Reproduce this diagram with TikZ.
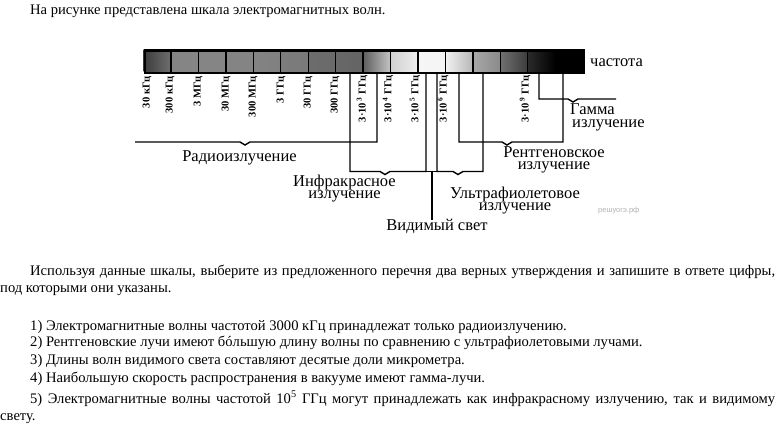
\documentclass[tikz,border=0pt]{standalone}
\usepackage{fontspec}
\setmainfont{Liberation Serif}
\newfontfamily\wmfont{Liberation Sans}
\begin{document}
\begin{tikzpicture}[x=1pt,y=-1pt,
  br/.style={line width=1.4pt},
  sep/.style={line width=1.3pt},
  tick/.style={rotate=90,anchor=east,inner sep=0pt,font=\fontsize{10.5}{11}\selectfont\bfseries},
  lbl/.style={inner sep=0pt,align=center,font=\fontsize{16.5}{12.5}\selectfont},
  body/.style={inner sep=0pt,font=\fontsize{14.6}{17}\selectfont}]
\useasboundingbox (0,0) rectangle (780,425);
\def\xo{143.5}\def\cw{27.45}
% bar cells
\foreach \i/\l/\r in {0/3c3c3c/6e6e6e,1/848484/868686,2/858585/858585,3/848484/848484,4/838383/808080,
  5/7c7c7c/7a7a7a,6/6c6c6c/6a6a6a,7/686868/646464,8/5e5e5e/c4c4c4,9/d0d0d0/eeeeee,10/f6f6f6/f4f4f4,
  11/f2f2f2/b6b6b6,12/a8a8a8/8a8a8a,13/707070/3c3c3c,14/2a2a2a/000000,15/000000/000000}{
  \definecolor{cl}{HTML}{\l}\definecolor{cr}{HTML}{\r}
  \fill[left color=cl,right color=cr] (\xo+\i*\cw,49.3) rectangle (\xo+\i*\cw+\cw,71.7);
}
\foreach \i in {1,...,14}{\draw[sep] (\xo+\i*\cw,49.3) -- (\xo+\i*\cw,71.7);}
\node[draw,line width=2.5pt,inner sep=0pt,minimum width=439.2pt,minimum height=22.4pt,anchor=north west] (bar) at (\xo,49.3) {};
\node[anchor=base west,inner sep=0pt,font=\fontsize{16.5}{18}\selectfont] (freq) at (590,67) {частота};
% tick labels
\node[tick] (t0) at (147,76) {30 кГц};
\node[tick] (t1) at (170,76) {300 кГц};
\node[tick] (t2) at (198,76) {3 МГц};
\node[tick] (t3) at (226,76) {30 МГц};
\node[tick] (t4) at (253,76) {300 МГц};
\node[tick] (t5) at (281,76) {3 ГГц};
\node[tick] (t6) at (308,76) {30 ГГц};
\node[tick] (t7) at (335,76) {300 ГГц};
\node[tick] (t8) at (362,75) {3·10\textsuperscript{\,3}\;ГГц};
\node[tick] (t9) at (388,75) {3·10\textsuperscript{\,4}\;ГГц};
\node[tick] (t10) at (415,75) {3·10\textsuperscript{\,5}\;ГГц};
\node[tick] (t11) at (443,75) {3·10\textsuperscript{\,6}\;ГГц};
\node[tick] (t14) at (525,75) {3·10\,\textsuperscript{9}\;ГГц};
% bracket coordinates
\coordinate (radL) at (135,142); \coordinate (radR) at (377,73);
\coordinate (irL) at (350,73); \coordinate (irR) at (426,73);
\coordinate (uvL) at (437,73); \coordinate (uvR) at (483,73);
\coordinate (xrL) at (459,73); \coordinate (xrR) at (563,73);
\coordinate (gmL) at (539,73); \coordinate (gmR) at (616,99);
\coordinate (visT) at (432,171.5); \coordinate (visB) at (432,220);
% radio
\draw[br] (radL) -- (240,142) -- (245,145) -- (250,142) -- (radR |- radL) -- (radR);
% infrared
\draw[br] (irL) -- (irL |- visT) -- (380,171.5) -- (385,174.5) -- (390,171.5) -- (irR |- visT) -- (irR);
% ultraviolet
\draw[br] (uvL) -- (uvL |- visT) -- (453,171.5) -- (458,174.5) -- (463,171.5) -- (uvR |- visT) -- (uvR);
% visible
\draw[br] (irR |- visT) -- (uvL |- visT);
\draw[br] (visT) -- (visB);
% x-ray
\draw[br] (xrL) -- (xrL |- radL) -- (502,142) -- (507,145) -- (512,142) -- (xrR |- radL) -- (xrR);
% gamma
\draw[br] (gmL) -- (gmL |- gmR) -- (568,99) -- (573,102) -- (578,99) -- (gmR);
% labels (base = baseline of last line)
\node[lbl,anchor=base] (lrad) at (239.5,161.7) {Радиоизлучение};
\node[lbl,anchor=base] (lir) at (344.5,199) {Инфракрасное\\излучение};
\node[lbl,anchor=base] (lvis) at (437,230) {Видимый свет};
\node[lbl,anchor=base] (luv) at (515,211) {Ультрафиолетовое\\излучение};
\node[lbl,anchor=base] (lxr) at (554,170) {Рентгеновское\\излучение};
\node[lbl,anchor=base west,align=left] (lgm) at (570,127.5) {Гамма\\\hspace*{2pt}излучение};
\node[anchor=base west,inner sep=0pt,text=black!30,font=\wmfont\fontsize{7.5}{8}\selectfont] (wm) at (598,213) {решуогэ.рф};
% texts
\node[body,anchor=base west] (head) at (30,15) {На рисунке представлена шкала электромагнитных волн.};
\node[body,anchor=north west,text width=775pt,align=justify] (para) at (0,265)
  {\parindent=30pt\indent Используя данные шкалы, выберите из предложенного перечня два верных утверждения и запишите в ответе цифры,\linebreak под которыми они указаны.};
\node[body,anchor=base west] (i1) at (30,330) {1) Электромагнитные волны частотой 3000 кГц принадлежат только радиоизлучению.};
\node[body,anchor=base west] (i2) at (30,346.5) {2) Рентгеновские лучи имеют бóльшую длину волны по сравнению с ультрафиолетовыми лучами.};
\node[body,anchor=base west] (i3) at (30,364) {3) Длины волн видимого света составляют десятые доли микрометра.};
\node[body,anchor=base west] (i4) at (30,382) {4) Наибольшую скорость распространения в вакууме имеют гамма-лучи.};
\node[body,anchor=base west,text width=775pt,align=justify] (i5) at (0,403)
  {\parindent=30pt\indent 5) Электромагнитные волны частотой 10\textsuperscript{5} ГГц могут принадлежать как инфракрасному излучению, так и видимому\linebreak свету.};
\end{tikzpicture}
\end{document}
